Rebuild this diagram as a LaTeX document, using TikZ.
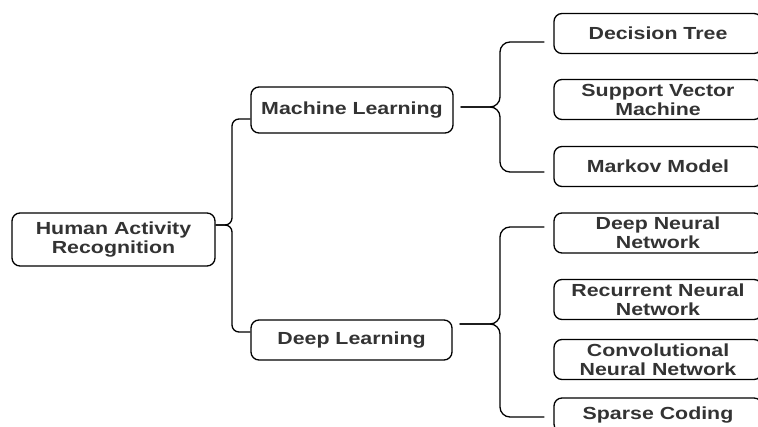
\documentclass[tikz,border=0pt]{standalone}
\usepackage{fontspec}
\newfontfamily\boxfont[FakeStretch=1.22]{Liberation Sans}
\usetikzlibrary{positioning}

\begin{document}
\begin{tikzpicture}[x=1pt,y=-1pt,
    box/.style={draw,line width=1.3pt,rounded corners=8pt,align=center,inner sep=0pt,
        font=\boxfont\bfseries\fontsize{17.5}{19}\selectfont,text=black!80},
    leaf/.style={box,minimum width=208pt,minimum height=40pt},
    brace/.style={line width=1.3pt,rounded corners=10pt}]
        \useasboundingbox (0, 0) rectangle (758, 427);
        \clip (0, 0) rectangle (758, 427);

        % Root and first level
        \node[box,minimum width=203pt,minimum height=53pt] (har) at (113.5, 239.5) {Human Activity\\Recognition};
        \node[box,minimum width=202pt,minimum height=46pt] (ml) at (352, 110) {Machine Learning};
        \node[box,minimum width=201pt,minimum height=40pt] (dl) at (351.5, 340) {Deep Learning};

        % Machine learning methods
        \node[leaf] (dt) at (658, 33.5) {Decision Tree};
        \node[leaf] (svm) at (658, 99.5) {Support Vector\\Machine};
        \node[leaf] (mm) at (658, 166.5) {Markov Model};

        % Deep learning methods
        \node[leaf] (dnn) at (658, 233) {Deep Neural\\Network};
        \node[leaf] (rnn) at (658, 299.5) {Recurrent Neural\\Network};
        \node[leaf] (cnn) at (658, 359.5) {Convolutional\\Neural Network};
        \node[leaf,minimum height=34pt] (sc) at (658, 415) {Sparse Coding};

        % Braces
        \coordinate (hv) at (232, 225);
        \draw[brace,rounded corners=7pt] (har.east |- hv) -- (hv) |- ([yshift=-9pt]ml.west);
        \draw[brace,rounded corners=7pt] (har.east |- hv) -- (hv) |- ([yshift=8pt]dl.west);

        \coordinate (mv) at (500, 107);
        \draw[brace] (ml.east) ++(7, -3) -- (mv) |- ([xshift=-9pt,yshift=-8.5pt]dt.west);
        \draw[brace] (ml.east) ++(7, -3) -- (mv) |- ([xshift=-9pt,yshift=-5.5pt]mm.west);

        \coordinate (dv) at (500, 324);
        \draw[brace] (dl.east) ++(7, -16) -- (dv) |- ([xshift=-9pt,yshift=6pt]dnn.west);
        \draw[brace] (dl.east) ++(7, -16) -- (dv) |- ([xshift=-9pt,yshift=-2pt]sc.west);
    \end{tikzpicture}
\end{document}
